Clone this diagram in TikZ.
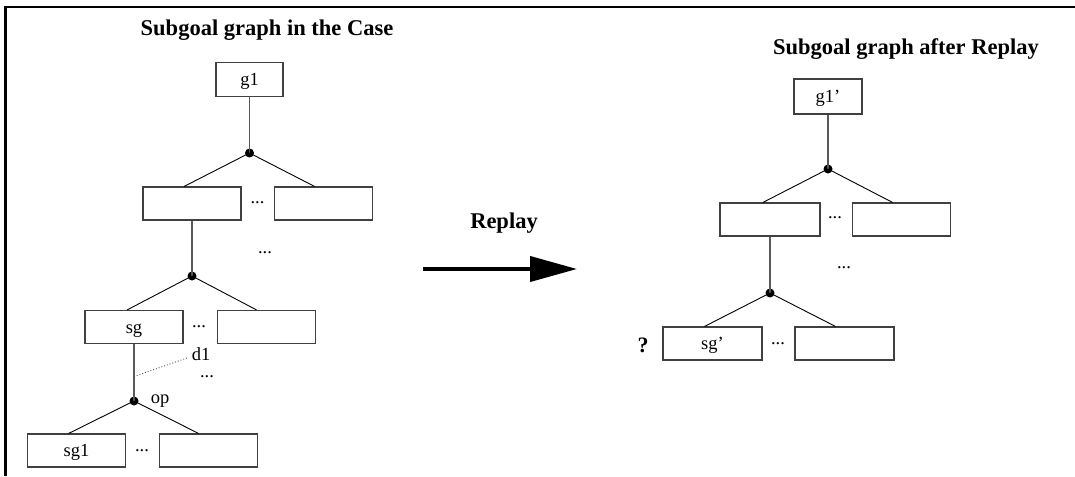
\documentclass[tikz,border=0pt]{standalone}
\usepackage{fontspec}
\setmainfont{Liberation Serif}
\usetikzlibrary{calc,arrows.meta}
\begin{document}
\begin{tikzpicture}[x=1pt,y=-1pt,
  goal/.style={draw=black!75, line width=1.1pt, minimum width=98pt, minimum height=33pt,
    inner sep=0pt, text height=12.5pt, text depth=0pt, font=\fontsize{18.5}{20}\selectfont},
  topgoal/.style={goal, minimum width=67pt, minimum height=34pt},
  andpt/.style={circle, fill=black, inner sep=0pt, minimum size=9pt},
  link/.style={draw=black!65, line width=1.1pt},
  branch/.style={draw=black, line width=0.9pt},
  lbl/.style={anchor=base, inner sep=0pt, font=\fontsize{18.5}{20}\selectfont},
  heading/.style={anchor=base, inner sep=0pt, font=\fontsize{22.5}{27}\selectfont\bfseries},
]
\useasboundingbox (0,0) rectangle (1075,476);

% frame edges
\draw[line width=2.5pt] (5.3,476) -- (5.3,7) -- (1075,7);

% headings
\node[heading] (tcase) at (267,36) {Subgoal graph in the Case};
\node[heading] (treplay) at (906,55) {Subgoal graph after Replay};
\node[heading] (replay) at (504,228) {Replay};

% replay arrow
\coordinate (arrs) at (423,269);
\coordinate (arre) at (577,269);
\draw[line width=4pt, -{Triangle[length=47pt,width=25pt]}] (arrs) -- (arre);

% ---- subgoal graph of the case ----
\node[topgoal] (g1) at (249.5,79.5) {g1};
\node[andpt] (d1) at (249.5,153) {};
\node[goal] (b21) at (192,203.5) {};
\node[goal] (b22) at (323.5,203.5) {};
\node[andpt] (d2) at (192,276) {};
\node[goal] (sg) at (134,327) {sg};
\node[goal] (b32) at (266.5,327) {};
\node[andpt] (d3) at (134,401) {};
\node[goal] (sg1) at (76.5,450.5) {sg1};
\node[goal] (b42) at (208.5,450.5) {};

\node[lbl] (e21) at (257.5,203) {...};
\node[lbl] (e2v) at (265,253) {...};
\node[lbl] (e31) at (199,327) {...};
\node[lbl] (e3d) at (207,377) {...};
\node[lbl] (e41) at (142,451) {...};
\node[lbl] (ld1) at (201,360) {d1};
\node[lbl] (lop) at (160,403) {op};

\draw[link] (g1.south) -- (d1.center);
\draw[branch] (d1.center) -- ($(b21.north west)!0.42!(b21.north east)$);
\draw[branch] (d1.center) -- ($(b22.north west)!0.41!(b22.north east)$);
\draw[link] (b21.south) -- (d2.center);
\draw[branch] (d2.center) -- ($(sg.north west)!0.43!(sg.north east)$);
\draw[branch] (d2.center) -- ($(b32.north west)!0.40!(b32.north east)$);
\draw[link] (sg.south) -- (d3.center);
\draw[branch] (d3.center) -- ($(sg1.north west)!0.42!(sg1.north east)$);
\draw[branch] (d3.center) -- ($(b42.north west)!0.40!(b42.north east)$);

% decision link of sg
\coordinate (dstart) at ($(sg.south)!0.57!(d3.center)$);
\coordinate (dend) at (187,358);
\draw[black!70, line width=0.9pt, dotted] (dstart) -- (dend);

% ---- subgoal graph after replay ----
\node[topgoal, minimum width=68pt, minimum height=35pt] (g1p) at (828,96.5) {g1'};
\node[andpt] (r1) at (828,169) {};
\node[goal, minimum width=100pt] (r21) at (770,219.5) {};
\node[goal] (r22) at (901.5,219.5) {};
\node[andpt] (r2) at (770,293) {};
\node[goal, minimum width=99pt] (sgp) at (712.5,343.5) {sg'};
\node[goal, minimum width=99pt] (r32) at (844.5,343.5) {};

\node[lbl] (f21) at (835,218) {...};
\node[lbl] (f2v) at (844,268) {...};
\node[lbl] (f31) at (778,344) {...};
\node[heading, font=\fontsize{22}{26}\selectfont\bfseries] (qm) at (643,352) {?};

\draw[link] (g1p.south) -- (r1.center);
\draw[branch] (r1.center) -- ($(r21.north west)!0.43!(r21.north east)$);
\draw[branch] (r1.center) -- ($(r22.north west)!0.41!(r22.north east)$);
\draw[link] (r21.south) -- (r2.center);
\draw[branch] (r2.center) -- ($(sgp.north west)!0.42!(sgp.north east)$);
\draw[branch] (r2.center) -- ($(r32.north west)!0.41!(r32.north east)$);
\end{tikzpicture}
\end{document}
